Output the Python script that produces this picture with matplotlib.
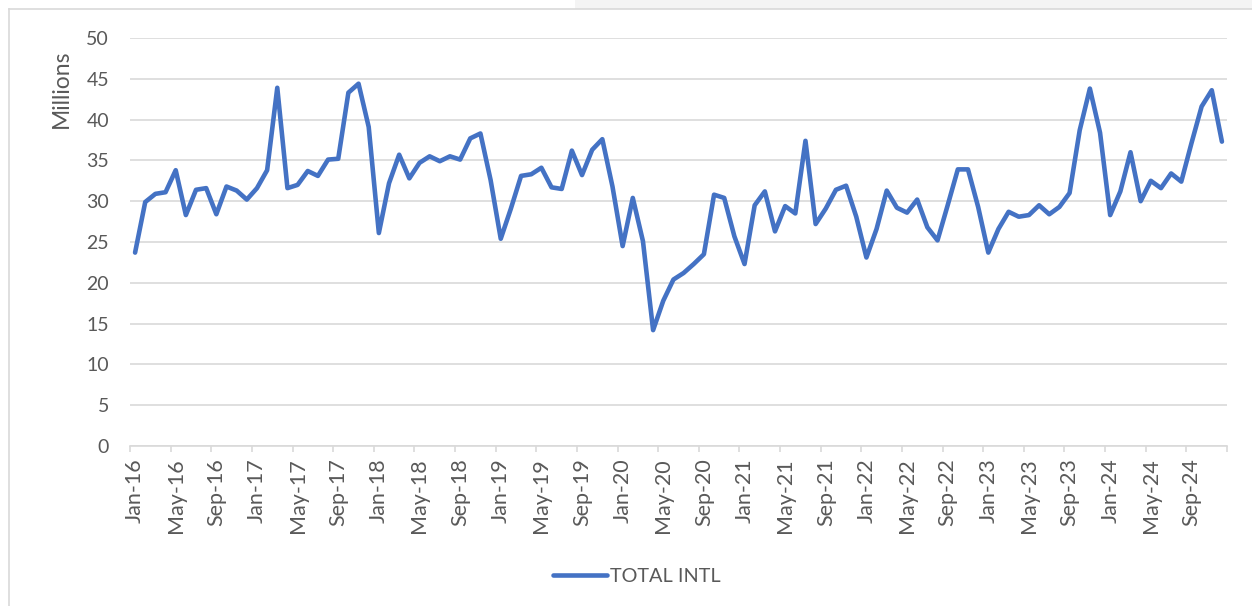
"""TOTAL INTL monthly series, Jan-16 .. Dec-24"""

import numpy as np
import pandas as pd
import matplotlib
matplotlib.use('Agg')
import matplotlib.pyplot as plt
from matplotlib.patches import Rectangle

plt.rcParams['font.family'] = ['Lato', 'DejaVu Sans']

## data (millions)
months = pd.date_range('2016-01-01', '2024-12-01', freq='MS')
total_intl = [
    23.7, 29.9, 30.9, 31.1, 33.8, 28.3, 31.4, 31.6, 28.4, 31.8, 31.3, 30.2,   # 2016
    31.6, 33.8, 43.9, 31.6, 32.0, 33.7, 33.1, 35.1, 35.2, 43.3, 44.4, 39.1,   # 2017
    26.1, 32.2, 35.7, 32.8, 34.7, 35.5, 34.9, 35.5, 35.1, 37.7, 38.3, 32.6,   # 2018
    25.4, 29.1, 33.1, 33.3, 34.1, 31.7, 31.5, 36.2, 33.2, 36.3, 37.6, 31.8,   # 2019
    24.5, 30.4, 25.1, 14.2, 17.8, 20.4, 21.2, 22.3, 23.5, 30.8, 30.4, 25.7,   # 2020
    22.3, 29.5, 31.2, 26.3, 29.4, 28.5, 37.4, 27.2, 29.1, 31.4, 31.9, 28.1,   # 2021
    23.1, 26.6, 31.3, 29.2, 28.6, 30.2, 26.8, 25.2, 29.5, 33.9, 33.9, 29.3,   # 2022
    23.7, 26.6, 28.7, 28.1, 28.3, 29.5, 28.4, 29.3, 31.0, 38.7, 43.8, 38.4,   # 2023
    28.3, 31.2, 36.0, 30.0, 32.5, 31.6, 33.4, 32.4, 37.1, 41.6, 43.6, 37.3,   # 2024
]
labels = [d.strftime('%b-%y') for d in months]
x = np.arange(len(months))

txt = '#595959'
grid = '#d9d9d9'

## plot
fig = plt.figure(figsize=(12.52, 6.06), dpi=100)
ax = fig.add_axes([130/1252, 1-446/606, 1097/1252, 408/606])

ax.plot(x, total_intl, color='#4472C4', lw=3.3, solid_joinstyle='round',
        solid_capstyle='round', label='TOTAL INTL', zorder=3)

ax.set_xlim(-0.5, len(x) - 0.5)
ax.set_ylim(0, 50)
ax.set_yticks(range(0, 51, 5))
ax.grid(axis='y', color=grid, lw=1.2)
ax.set_axisbelow(True)

ax.set_xticks(x[::4])
ax.set_xticklabels(labels[::4], rotation=90)
ax.set_xticks(np.arange(-0.5, len(x), 4), minor=True)
ax.tick_params(axis='x', which='major', length=0, pad=9, labelsize=15.5, labelcolor=txt)
ax.tick_params(axis='x', which='minor', length=4.5, width=1.2, color=grid)
ax.tick_params(axis='y', length=0, pad=15, labelsize=14, labelcolor=txt)

for s in ['top', 'right', 'left']:
    ax.spines[s].set_visible(False)
ax.spines['bottom'].set_color(grid)
ax.spines['bottom'].set_linewidth(1.2)

fig.text(61/1252, 1-89/606, 'Millions', rotation=90, ha='center', va='center',
         fontsize=16.5, color=txt)

leg = fig.legend(loc='center', bbox_to_anchor=(637/1252, 1-576/606), frameon=False,
                 handlelength=2.7, fontsize=14.3, labelcolor=txt, handletextpad=0.2)

## chart border and screenshot background
fig.patches.append(Rectangle((575/1252, 1-9/606), 1, 9/606, transform=fig.transFigure,
                             facecolor='#f4f4f4', edgecolor='none', zorder=0))
fig.add_artist(plt.Line2D([8.5/1252, 8.5/1252], [0, 1-9/606], color=grid, lw=1.2))
fig.add_artist(plt.Line2D([8.5/1252, 1], [1-9/606, 1-9/606], color=grid, lw=1.2))

fig.savefig('out.png', dpi=100)
